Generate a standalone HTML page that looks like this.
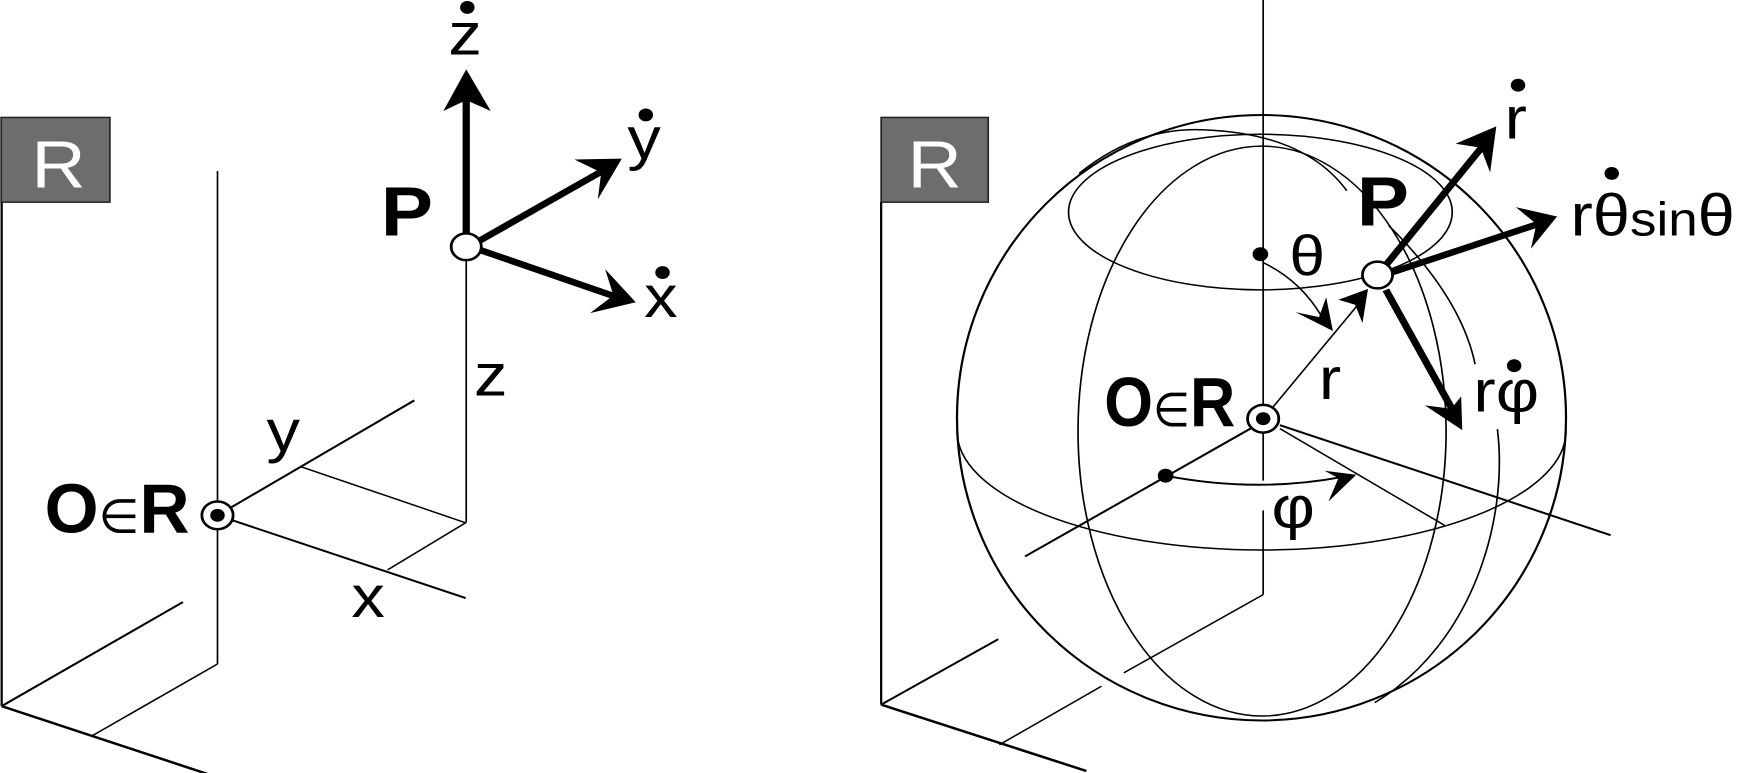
<!DOCTYPE html>
<html><head><meta charset="utf-8"><style>
html,body{margin:0;padding:0;background:#fff;}
svg{display:block;}
text{font-family:"Liberation Sans",sans-serif;fill:#000;}
</style></head><body>
<svg width="1740" height="773" viewBox="0 0 3120 1560" preserveAspectRatio="none" xmlns="http://www.w3.org/2000/svg">
<g stroke="#000" fill="none" stroke-linecap="butt">
<rect x="2" y="237" width="195" height="171" fill="#6d6d6d" stroke="#222" stroke-width="3"/>
<line x1="3" y1="408" x2="3" y2="1425" stroke-width="4"/>
<line x1="3" y1="1425" x2="328" y2="1215" stroke-width="4"/>
<line x1="3" y1="1425" x2="372" y2="1562" stroke-width="5"/>
<line x1="165" y1="1485" x2="390" y2="1340" stroke-width="3"/>
<line x1="390" y1="345" x2="390" y2="1340" stroke-width="3"/>
<line x1="390" y1="1040" x2="743" y2="808" stroke-width="4"/>
<line x1="390" y1="1040" x2="835" y2="1207" stroke-width="4"/>
<line x1="540" y1="942" x2="835" y2="1055" stroke-width="3"/>
<line x1="695" y1="1150" x2="835" y2="1055" stroke-width="3"/>
<line x1="836" y1="525" x2="836" y2="1055" stroke-width="3"/>
<line x1="836" y1="470" x2="836" y2="195" stroke-width="13"/>
<line x1="858" y1="487" x2="1085" y2="342" stroke-width="13"/>
<line x1="862" y1="505" x2="1102" y2="598" stroke-width="13"/>
<circle cx="390" cy="1040" r="28" fill="#fff" stroke-width="5"/>
<circle cx="390" cy="1040" r="13" fill="#000" stroke="none"/>
<circle cx="836" cy="498" r="27" fill="#fff" stroke-width="5"/>
</g>
<g fill="#000" stroke="none">
<polygon points="836,140 880,224 836,202 795,224"/>
<polygon points="1115,320 1072,402 1078,348 1030,322"/>
<polygon points="1140,610 1058,632 1100,596 1085,543"/>
<circle cx="838" cy="15" r="13"/>
<circle cx="1158" cy="232" r="13"/>
<circle cx="1188" cy="550" r="13"/>
</g>
<text x="105" y="378" font-size="135" text-anchor="middle" style="fill:#fff">R</text>
<text x="683" y="475" font-size="140" font-weight="bold">P</text>
<text x="834" y="110" font-size="120" text-anchor="middle">z</text>
<text x="1155" y="320" font-size="120" text-anchor="middle">y</text>
<text x="1185" y="640" font-size="120" text-anchor="middle">x</text>
<text x="880" y="798" font-size="120" text-anchor="middle">z</text>
<text x="508" y="910" font-size="120" text-anchor="middle">y</text>
<text x="660" y="1245" font-size="120" text-anchor="middle">x</text>
<text x="80" y="1075" font-size="140" font-weight="bold" textLength="260" lengthAdjust="spacingAndGlyphs">O<tspan font-size="95" font-weight="normal">∈</tspan>R</text>

<g transform="translate(1560,0)">
<g stroke="#000" fill="none">
<rect x="20" y="237" width="192" height="171" fill="#6d6d6d" stroke="#222" stroke-width="3"/>
<line x1="20" y1="408" x2="20" y2="1422" stroke-width="4"/>
<line x1="20" y1="1422" x2="230" y2="1290" stroke-width="4"/>
<line x1="20" y1="1422" x2="388" y2="1556" stroke-width="5"/>
<line x1="232" y1="1503" x2="415" y2="1385" stroke-width="3"/>
<line x1="455" y1="1358" x2="705" y2="1200" stroke-width="3"/>
<line x1="705" y1="0" x2="705" y2="970" stroke-width="3"/>
<line x1="705" y1="1030" x2="705" y2="1200" stroke-width="3"/>
<ellipse cx="702" cy="843" rx="546" ry="611" stroke-width="4"/>
<path d="M156,870 A546,240 0 0 0 1248,870" stroke-width="3"/>
<ellipse cx="700" cy="428" rx="344" ry="157" stroke-width="3"/>
<ellipse cx="703" cy="870" rx="330" ry="575" stroke-width="3"/>
<path d="M375,350 Q480,255 600,262 Q780,270 855,385" stroke-width="3"/>
<path d="M930,455 Q1060,600 1085,735" stroke-width="3"/>
<path d="M1125,866 C1145,1050 1080,1300 905,1418" stroke-width="3"/>
<line x1="690" y1="860" x2="278" y2="1123" stroke-width="4"/>
<line x1="735" y1="858" x2="1328" y2="1080" stroke-width="4"/>
<line x1="735" y1="865" x2="1030" y2="1060" stroke-width="3"/>
<line x1="720" y1="825" x2="875" y2="615" stroke-width="3"/>
<path d="M705,530 Q770,565 808,635" stroke-width="3"/>
<path d="M530,960 Q690,995 845,963" stroke-width="4"/>
<line x1="925" y1="535" x2="1098" y2="296" stroke-width="13"/>
<line x1="935" y1="550" x2="1198" y2="452" stroke-width="13"/>
<line x1="925" y1="585" x2="1045" y2="828" stroke-width="13"/>
<circle cx="705" cy="845" r="28" fill="#fff" stroke-width="5"/>
<circle cx="705" cy="845" r="13" fill="#000" stroke="none"/>
<circle cx="910" cy="555" r="27" fill="#fff" stroke-width="5"/>
</g>
<g fill="#000" stroke="none">
<polygon points="893,583 883,652 870,615 840,605"/>
<polygon points="830,668 763,630 805,640 818,600"/>
<polygon points="872,958 822,1012 840,965 815,950"/>
<polygon points="1123,255 1112,348 1095,298 1050,290"/>
<polygon points="1232,437 1185,502 1195,452 1158,418"/>
<polygon points="1062,868 995,818 1042,825 1060,800"/>
<circle cx="700" cy="513" r="14"/>
<circle cx="530" cy="960" r="14"/>
<circle cx="1162" cy="172" r="13"/>
<circle cx="1330" cy="350" r="13"/>
<circle cx="1155" cy="738" r="13"/>
</g>
<text x="116" y="378" font-size="135" text-anchor="middle" style="fill:#fff">R</text>
<text x="873" y="455" font-size="140" font-weight="bold">P</text>
<text x="752" y="555" font-size="115">θ</text>
<text x="805" y="805" font-size="120">r</text>
<text x="420" y="860" font-size="140" font-weight="bold" textLength="235" lengthAdjust="spacingAndGlyphs">O<tspan font-size="95" font-weight="normal">∈</tspan>R</text>
<text x="720" y="1065" font-size="120">φ</text>
<text x="1138" y="280" font-size="120">r</text>
<text x="1256" y="475" font-size="120">rθ<tspan font-size="95">sin</tspan>θ</text>
<text x="1082" y="830" font-size="120">rφ</text>
</g>
</svg>
</body></html>
